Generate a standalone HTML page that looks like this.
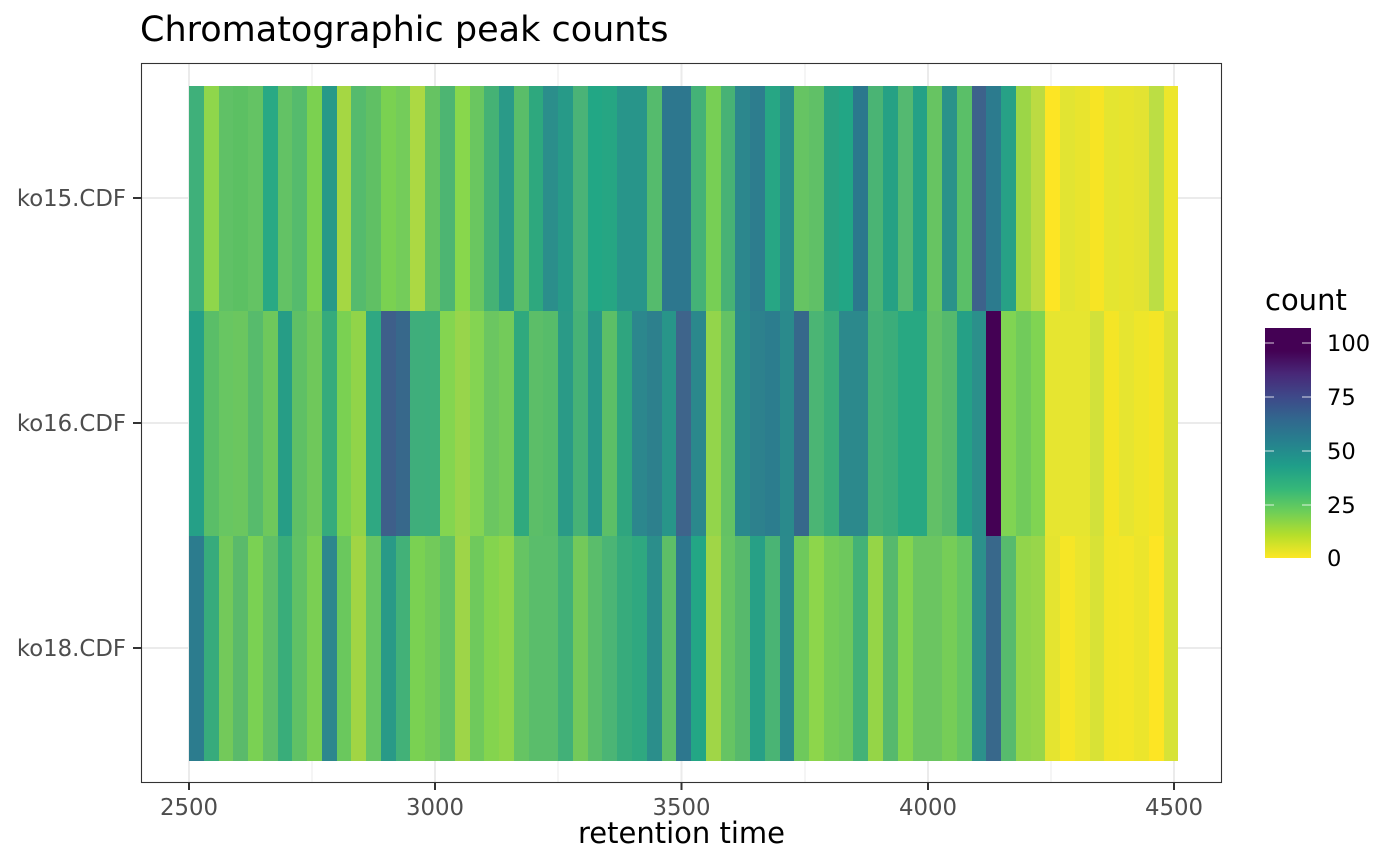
<!DOCTYPE html>
<html><head><meta charset="utf-8"><style>
body{margin:0;background:#fff;width:1400px;height:866px;overflow:hidden;position:relative;font-family:"DejaVu Sans","Liberation Sans",sans-serif}
.row{position:absolute;left:189px;width:989px;height:225px;display:flex}
.row i{flex:1 1 0;height:100%}
</style></head><body>
<svg width="1400" height="866" style="position:absolute;left:0;top:0">
<rect x="141" y="63" width="1080" height="719" fill="#fff"/>
<g stroke="#ebebeb" stroke-width="1">
<line x1="312" y1="63" x2="312" y2="782"/><line x1="558" y1="63" x2="558" y2="782"/><line x1="805" y1="63" x2="805" y2="782"/><line x1="1051" y1="63" x2="1051" y2="782"/>
</g>
<g stroke="#ebebeb" stroke-width="2">
<line x1="189" y1="63" x2="189" y2="782"/><line x1="435" y1="63" x2="435" y2="782"/><line x1="681.5" y1="63" x2="681.5" y2="782"/><line x1="928" y1="63" x2="928" y2="782"/><line x1="1174" y1="63" x2="1174" y2="782"/>
<line x1="141" y1="198" x2="1221" y2="198"/><line x1="141" y1="423" x2="1221" y2="423"/><line x1="141" y1="648" x2="1221" y2="648"/>
</g>
</svg>
<div class="row" style="top:86px"><i style="background:#3fb07a"></i><i style="background:#8fd64b"></i><i style="background:#60c166"></i><i style="background:#5cc063"></i><i style="background:#64c364"></i><i style="background:#29a984"></i><i style="background:#63c265"></i><i style="background:#55bb6d"></i><i style="background:#7bd150"></i><i style="background:#279a88"></i><i style="background:#a5d743"></i><i style="background:#55bb6d"></i><i style="background:#60c064"></i><i style="background:#7ad151"></i><i style="background:#74cc5a"></i><i style="background:#acd943"></i><i style="background:#66c362"></i><i style="background:#4db572"></i><i style="background:#88d74c"></i><i style="background:#6ac660"></i><i style="background:#45b275"></i><i style="background:#2a9a88"></i><i style="background:#5abd69"></i><i style="background:#2ea87e"></i><i style="background:#2b8e8b"></i><i style="background:#279a88"></i><i style="background:#4ab377"></i><i style="background:#22a785"></i><i style="background:#26a683"></i><i style="background:#28958a"></i><i style="background:#28958a"></i><i style="background:#55bb6d"></i><i style="background:#2d778e"></i><i style="background:#2d778e"></i><i style="background:#44b277"></i><i style="background:#77cf55"></i><i style="background:#47b275"></i><i style="background:#2c878d"></i><i style="background:#2d7d8e"></i><i style="background:#27a684"></i><i style="background:#2a8d8b"></i><i style="background:#66c463"></i><i style="background:#60c067"></i><i style="background:#2aa281"></i><i style="background:#22a685"></i><i style="background:#2b788d"></i><i style="background:#4ab474"></i><i style="background:#26a184"></i><i style="background:#54b971"></i><i style="background:#25a186"></i><i style="background:#67c462"></i><i style="background:#2a928a"></i><i style="background:#5abf68"></i><i style="background:#3d628b"></i><i style="background:#2c7b8e"></i><i style="background:#27a186"></i><i style="background:#9cd647"></i><i style="background:#bcdb42"></i><i style="background:#fde524"></i><i style="background:#e2e432"></i><i style="background:#e8e42e"></i><i style="background:#f7e424"></i><i style="background:#e4e530"></i><i style="background:#e7e42e"></i><i style="background:#e3e332"></i><i style="background:#bcde44"></i><i style="background:#ede62b"></i></div>
<div class="row" style="top:311px"><i style="background:#25a087"></i><i style="background:#5abe68"></i><i style="background:#68c662"></i><i style="background:#6bc65f"></i><i style="background:#57bb6c"></i><i style="background:#6ec85c"></i><i style="background:#269d86"></i><i style="background:#5fc065"></i><i style="background:#6fc85b"></i><i style="background:#35ab7c"></i><i style="background:#7ad152"></i><i style="background:#91d449"></i><i style="background:#2fa882"></i><i style="background:#3e5f8a"></i><i style="background:#37688b"></i><i style="background:#3fae7b"></i><i style="background:#3eae7c"></i><i style="background:#84d550"></i><i style="background:#98d54b"></i><i style="background:#84d452"></i><i style="background:#6bc661"></i><i style="background:#73cb5a"></i><i style="background:#2fa97e"></i><i style="background:#5cbe68"></i><i style="background:#57bc6a"></i><i style="background:#2a9a87"></i><i style="background:#46b276"></i><i style="background:#28978a"></i><i style="background:#5cbf67"></i><i style="background:#2fa57f"></i><i style="background:#2c878d"></i><i style="background:#2d808d"></i><i style="background:#289589"></i><i style="background:#3e648b"></i><i style="background:#2b888c"></i><i style="background:#93d54b"></i><i style="background:#64c264"></i><i style="background:#2a898c"></i><i style="background:#2d818d"></i><i style="background:#2c7d8e"></i><i style="background:#2a8a8c"></i><i style="background:#36688b"></i><i style="background:#4bb574"></i><i style="background:#3aac7a"></i><i style="background:#2c898c"></i><i style="background:#2c898c"></i><i style="background:#44b077"></i><i style="background:#3bad7a"></i><i style="background:#28a882"></i><i style="background:#28a882"></i><i style="background:#62c067"></i><i style="background:#55b96d"></i><i style="background:#25a086"></i><i style="background:#2b908b"></i><i style="background:#440154"></i><i style="background:#80d453"></i><i style="background:#71cb5b"></i><i style="background:#80d452"></i><i style="background:#e6e530"></i><i style="background:#e6e530"></i><i style="background:#e6e530"></i><i style="background:#d2e13a"></i><i style="background:#f4e526"></i><i style="background:#e6e530"></i><i style="background:#eee62a"></i><i style="background:#f4e526"></i><i style="background:#dae234"></i></div>
<div class="row" style="top:536px"><i style="background:#2c7c8e"></i><i style="background:#37ab7c"></i><i style="background:#73c95a"></i><i style="background:#5aba6b"></i><i style="background:#7ad153"></i><i style="background:#60bf68"></i><i style="background:#39ad7a"></i><i style="background:#60c165"></i><i style="background:#7acf53"></i><i style="background:#2d878d"></i><i style="background:#6ac85d"></i><i style="background:#a1d544"></i><i style="background:#67c563"></i><i style="background:#299a87"></i><i style="background:#42b178"></i><i style="background:#7ad152"></i><i style="background:#72ca5a"></i><i style="background:#62c265"></i><i style="background:#9ed548"></i><i style="background:#6fc95c"></i><i style="background:#84d44e"></i><i style="background:#8fd54a"></i><i style="background:#66c463"></i><i style="background:#5abd6b"></i><i style="background:#5abd6b"></i><i style="background:#42b078"></i><i style="background:#73c95a"></i><i style="background:#5abd6b"></i><i style="background:#4bb575"></i><i style="background:#37ab7c"></i><i style="background:#2fa880"></i><i style="background:#2b8e8b"></i><i style="background:#5dbe67"></i><i style="background:#2d778e"></i><i style="background:#23a685"></i><i style="background:#a0d647"></i><i style="background:#66c463"></i><i style="background:#57b96c"></i><i style="background:#27a086"></i><i style="background:#4ab474"></i><i style="background:#2b8a8c"></i><i style="background:#6ec95c"></i><i style="background:#8dd64b"></i><i style="background:#74cc58"></i><i style="background:#6ec85d"></i><i style="background:#43b277"></i><i style="background:#95d547"></i><i style="background:#56b96d"></i><i style="background:#84d44e"></i><i style="background:#6bc561"></i><i style="background:#6bc561"></i><i style="background:#76cd57"></i><i style="background:#66c662"></i><i style="background:#2c908b"></i><i style="background:#38688b"></i><i style="background:#57bb6d"></i><i style="background:#92d54b"></i><i style="background:#98d64a"></i><i style="background:#e4e430"></i><i style="background:#f6e626"></i><i style="background:#eae52e"></i><i style="background:#d8e236"></i><i style="background:#f2e628"></i><i style="background:#f4e628"></i><i style="background:#ece52c"></i><i style="background:#fde524"></i><i style="background:#d7e337"></i></div>
<svg width="1400" height="866" style="position:absolute;left:0;top:0">
<defs><linearGradient id="v" x1="0" y1="1" x2="0" y2="0">
<stop offset="0" stop-color="#fde725"/><stop offset="0.1" stop-color="#b5de2b"/><stop offset="0.2" stop-color="#6ece58"/><stop offset="0.3" stop-color="#35b779"/><stop offset="0.4" stop-color="#1f9e89"/><stop offset="0.5" stop-color="#26828e"/><stop offset="0.6" stop-color="#31688e"/><stop offset="0.7" stop-color="#3e4989"/><stop offset="0.8" stop-color="#482878"/><stop offset="0.9" stop-color="#440154"/><stop offset="1" stop-color="#440154"/>
</linearGradient></defs>
<rect x="141.5" y="63.5" width="1080" height="719" fill="none" stroke="#333" stroke-width="1.1"/>
<g stroke="#333" stroke-width="2">
<line x1="133" y1="198" x2="141" y2="198"/><line x1="133" y1="423" x2="141" y2="423"/><line x1="133" y1="648" x2="141" y2="648"/>
<line x1="189" y1="782" x2="189" y2="790"/><line x1="435" y1="782" x2="435" y2="790"/><line x1="681.5" y1="782" x2="681.5" y2="790"/><line x1="928" y1="782" x2="928" y2="790"/><line x1="1174" y1="782" x2="1174" y2="790"/>
</g>
<g font-family="DejaVu Sans, Liberation Sans, sans-serif" font-size="22.8" fill="#4d4d4d">
<text x="126" y="206" text-anchor="end">ko15.CDF</text>
<text x="126" y="431" text-anchor="end">ko16.CDF</text>
<text x="126" y="656" text-anchor="end">ko18.CDF</text>
<text x="189" y="815" text-anchor="middle">2500</text>
<text x="435" y="815" text-anchor="middle">3000</text>
<text x="681.5" y="815" text-anchor="middle">3500</text>
<text x="928" y="815" text-anchor="middle">4000</text>
<text x="1174" y="815" text-anchor="middle">4500</text>
</g>
<text x="681.5" y="843" text-anchor="middle" font-family="DejaVu Sans, sans-serif" font-size="29" fill="#000">retention time</text>
<text x="140" y="41" font-family="DejaVu Sans, sans-serif" font-size="35" fill="#000">Chromatographic peak counts</text>
<text x="1265" y="310" font-family="DejaVu Sans, sans-serif" font-size="29" fill="#000">count</text>
<rect x="1265" y="328" width="46" height="230" fill="url(#v)"/>
<g stroke="#fff" stroke-width="1" opacity="0.8">
<line x1="1265" y1="343" x2="1274" y2="343"/><line x1="1302" y1="343" x2="1311" y2="343"/>
<line x1="1265" y1="397" x2="1274" y2="397"/><line x1="1302" y1="397" x2="1311" y2="397"/>
<line x1="1265" y1="451" x2="1274" y2="451"/><line x1="1302" y1="451" x2="1311" y2="451"/>
<line x1="1265" y1="505" x2="1274" y2="505"/><line x1="1302" y1="505" x2="1311" y2="505"/>
</g>
<g font-family="DejaVu Sans, sans-serif" font-size="22.6" fill="#000">
<text x="1327" y="351">100</text><text x="1327" y="405">75</text><text x="1327" y="459">50</text><text x="1327" y="513">25</text><text x="1327" y="566">0</text>
</g>
</svg>
</body></html>
